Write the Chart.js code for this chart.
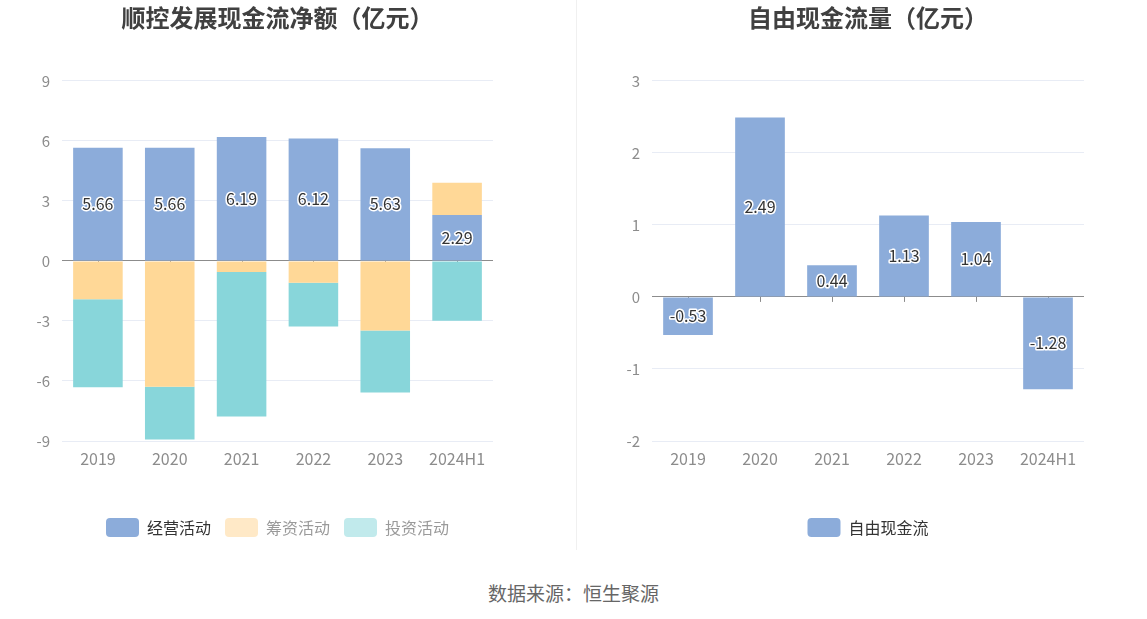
<!DOCTYPE html>
<html>
<head>
<meta charset="utf-8">
<script src="https://cdn.jsdelivr.net/npm/chart.js@4.4.1/dist/chart.umd.min.js"></script>
<style>
  html, body { margin: 0; padding: 0; background: #fff; overflow: hidden; }
  body { width: 1147px; height: 619px; position: relative; font-family: "Noto Sans CJK SC", "Noto Sans", sans-serif; }
  #left-box { position: absolute; left: 0; top: 0; }
  #right-box { position: absolute; left: 588px; top: 0; }
  .divider { position: absolute; left: 576px; top: 0; width: 1px; height: 550px; background: #f0f0f0; }
  .source { position: absolute; left: 0; width: 1147px; top: 580px; line-height: 26px; text-align: center; font-size: 19px; color: #666; }
</style>
</head>
<body>
<div id="left-box"><canvas id="flow-chart" width="555" height="560"></canvas></div>
<div class="divider"></div>
<div id="right-box"><canvas id="free-chart" width="560" height="560"></canvas></div>
<div class="source">数据来源：恒生聚源</div>
<script>
const years = ["2019", "2020", "2021", "2022", "2023", "2024H1"];
const operating = [5.66, 5.66, 6.19, 6.12, 5.63, 2.29];
const financing = [-1.92, -6.29, -0.56, -1.09, -3.48, 1.62];
const investing = [-4.4, -2.63, -7.22, -2.19, -3.1, -2.99];
const freeCashFlow = [-0.53, 2.49, 0.44, 1.13, 1.04, -1.28];

const FONT = '"Noto Sans CJK SC", "Noto Sans", sans-serif';
const BLUE = "#8cacda";
const ORANGE = "#ffd897";
const TEAL = "#88d6da";

function createValueLabelPlugin() {
  return {
    id: "value-labels",
    afterDatasetsDraw(chart, args, opts) {
      const { ctx } = chart;
      ctx.save();
      ctx.font = `16px ${FONT}`;
      ctx.textAlign = "center";
      ctx.textBaseline = "middle";
      ctx.lineJoin = "round";
      (opts.datasets || []).forEach((datasetIndex) => {
        const dataset = chart.data.datasets[datasetIndex];
        const meta = chart.getDatasetMeta(datasetIndex);
        meta.data.forEach((bar, index) => {
          const value = dataset.data[index];
          if (value == null) return;
          const y = (bar.y + bar.base) / 2;
          const text = value.toFixed(2);
          ctx.lineWidth = 3;
          ctx.strokeStyle = "#fff";
          ctx.strokeText(text, bar.x, y);
          ctx.fillStyle = "#333";
          ctx.fillText(text, bar.x, y);
        });
      });
      ctx.restore();
    },
  };
}

function createZeroTickPlugin() {
  return {
    id: "zero-ticks",
    beforeDatasetsDraw(chart) {
      const { ctx, scales } = chart;
      const zeroY = scales.y.getPixelForValue(0);
      ctx.save();
      ctx.strokeStyle = "#8c8c8c";
      ctx.lineWidth = 1;
      years.forEach((label, index) => {
        const x = Math.round(scales.x.getPixelForValue(index)) + 0.5;
        ctx.beginPath();
        ctx.moveTo(x, zeroY);
        ctx.lineTo(x, zeroY + 5);
        ctx.stroke();
      });
      ctx.restore();
    },
  };
}

function buildOptions(title, yMin, yMax, step, axisWidth, rightPad, legendStyles) {
  return {
    responsive: false,
    animation: false,
    layout: { padding: { left: 0, right: 0, top: 0, bottom: 13 } },
    plugins: {
      title: {
        display: true,
        text: title,
        color: "#404040",
        font: { family: FONT, size: 24, weight: "bold" },
        padding: { top: 3, bottom: 49 },
      },
      legend: {
        position: "bottom",
        labels: {
          font: { family: FONT, size: 16 },
          boxWidth: 33,
          boxHeight: 19,
          useBorderRadius: true,
          borderRadius: 4,
          padding: 14,
          generateLabels(chart) {
            return chart.data.datasets.map((dataset, i) => ({
              text: dataset.label,
              fillStyle: legendStyles[i].box,
              strokeStyle: legendStyles[i].box,
              lineWidth: 0,
              fontColor: legendStyles[i].text,
              hidden: false,
              datasetIndex: i,
              borderRadius: 4,
            }));
          },
        },
      },
      tooltip: { enabled: false },
      "value-labels": { datasets: [0] },
    },
    scales: {
      x: {
        stacked: true,
        grid: { display: false, drawTicks: false },
        border: { display: false },
        ticks: { color: "#8c8c8c", padding: 8, font: { family: FONT, size: 16 } },
        afterFit(scale) { scale.height = 63; },
      },
      y: {
        stacked: true,
        min: yMin,
        max: yMax,
        border: { display: false },
        grid: {
          drawTicks: false,
          color: (ctx) => (ctx.tick && ctx.tick.value === 0 ? "#8c8c8c" : "#e8ecf5"),
        },
        ticks: { stepSize: step, color: "#8c8c8c", padding: 12, font: { family: FONT, size: 15 } },
        afterFit(scale) { scale.width = axisWidth; },
      },
      spacer: {
        axis: "y",
        position: "right",
        min: yMin,
        max: yMax,
        grid: { display: false, drawTicks: false },
        border: { display: false },
        ticks: { display: false },
        afterFit(scale) { scale.width = rightPad; },
      },
    },
  };
}

new Chart(document.getElementById("flow-chart"), {
  type: "bar",
  data: {
    labels: years,
    datasets: [
      { label: "经营活动", data: operating, backgroundColor: BLUE, barPercentage: 0.69, categoryPercentage: 1 },
      { label: "筹资活动", data: financing, backgroundColor: ORANGE, barPercentage: 0.69, categoryPercentage: 1 },
      { label: "投资活动", data: investing, backgroundColor: TEAL, barPercentage: 0.69, categoryPercentage: 1 },
    ],
  },
  options: buildOptions("顺控发展现金流净额（亿元）", -9, 9, 3, 62, 62, [
    { box: BLUE, text: "#333" },
    { box: "#ffe9c7", text: "#9a9a9a" },
    { box: "#c1eaec", text: "#9a9a9a" },
  ]),
  plugins: [createZeroTickPlugin(), createValueLabelPlugin()],
});

new Chart(document.getElementById("free-chart"), {
  type: "bar",
  data: {
    labels: years,
    datasets: [
      { label: "自由现金流", data: freeCashFlow, backgroundColor: BLUE, barPercentage: 0.69, categoryPercentage: 1 },
    ],
  },
  options: buildOptions("自由现金流量（亿元）", -2, 3, 1, 64, 64, [
    { box: BLUE, text: "#333" },
  ]),
  plugins: [createZeroTickPlugin(), createValueLabelPlugin()],
});
</script>
</body>
</html>
